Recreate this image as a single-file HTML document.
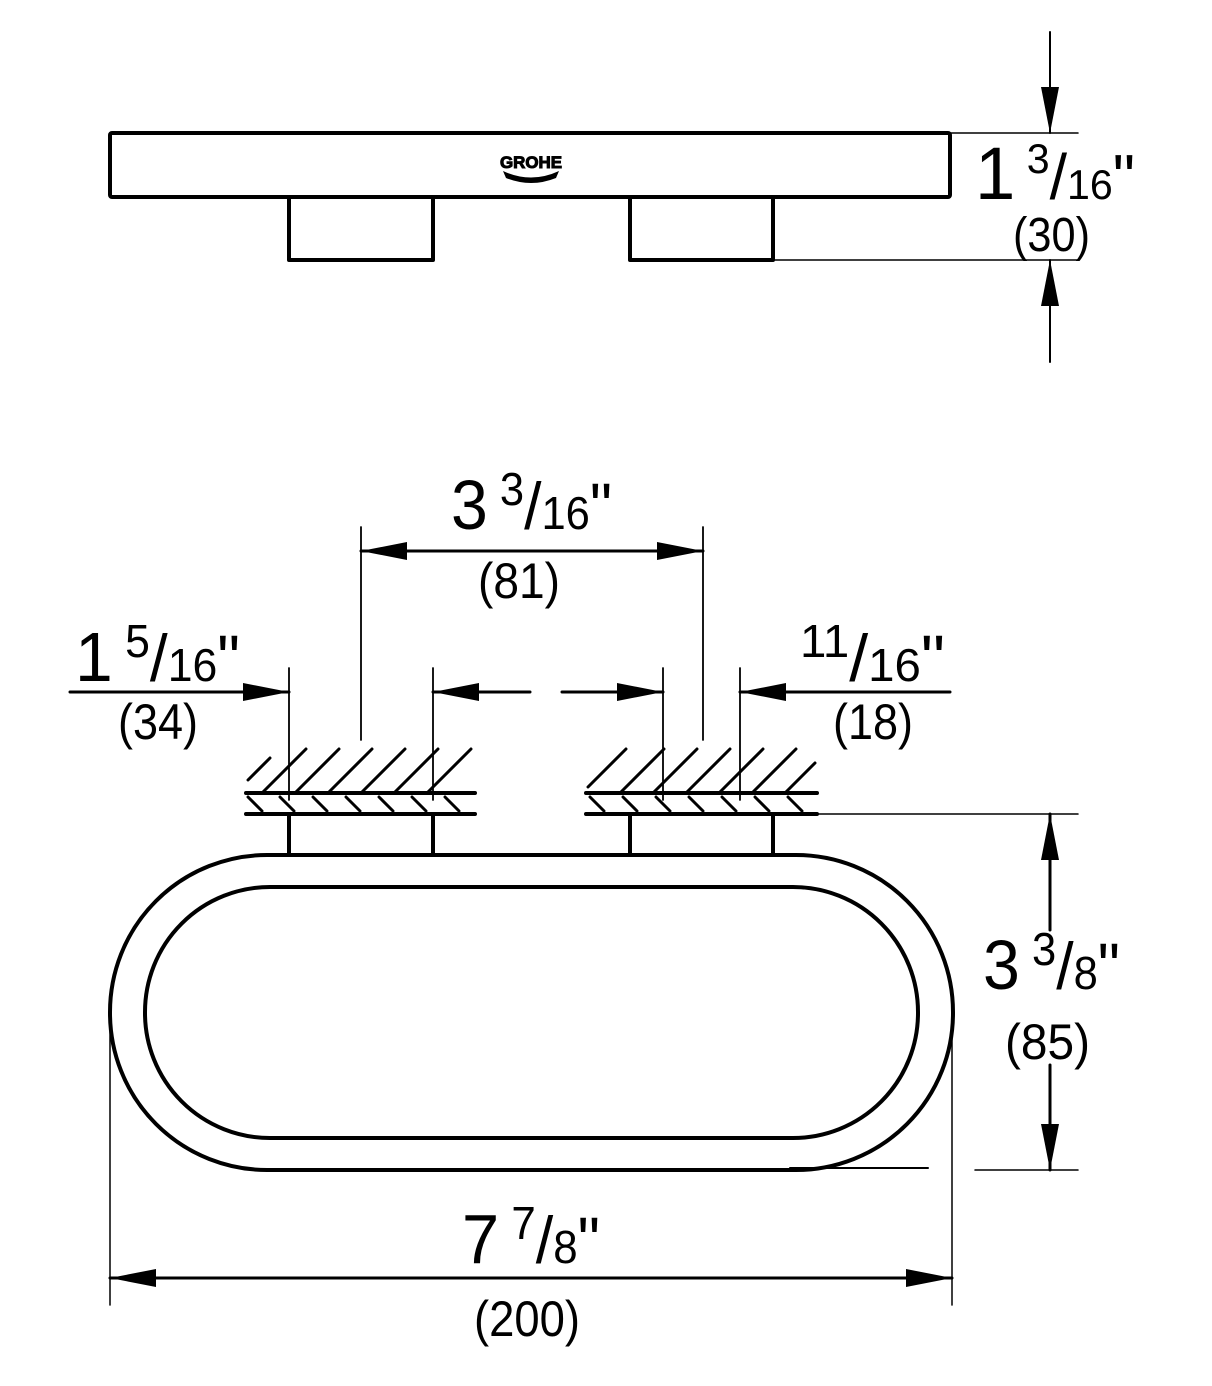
<!DOCTYPE html>
<html><head><meta charset="utf-8"><style>
html,body{margin:0;padding:0;background:#fff;}
svg{display:block;}
text{font-family:"Liberation Sans",sans-serif;fill:#000;}
</style></head><body>
<svg width="1212" height="1386" viewBox="0 0 1212 1386" xmlns="http://www.w3.org/2000/svg">
<defs>
<marker id="ah" viewBox="0 0 46 18" refX="46" refY="9" markerWidth="46" markerHeight="18" markerUnits="userSpaceOnUse" orient="auto">
<path d="M0,0 L46,9 L0,18 Z" fill="#000"/>
</marker>
</defs>
<g stroke="#000" fill="none" stroke-linecap="round" stroke-linejoin="round">
<rect x="110" y="133" width="840" height="64" stroke-width="4" rx="2"/>
<path d="M289,197 V260 H433 V197 M630,197 V260 H773 V197" stroke-width="4"/>
<path d="M950,133 H1078 M775,260 H1078" stroke-width="1.5"/>
<line x1="1050" y1="32" x2="1050" y2="133" stroke-width="2" marker-end="url(#ah)"/>
<line x1="1050" y1="362" x2="1050" y2="260" stroke-width="2" marker-end="url(#ah)"/>

<path d="M246,793 H475 M246,814 H475 M586,793 H817 M586,814 H817" stroke-width="4"/>
<g stroke-width="3">
<path d="M248,780 L270,758 M262,793 L306,749 M295,793 L339,749 M328,793 L372,749 M361,793 L405,749 M394,793 L438,749 M427,793 L471,749"/>
<path d="M248,797 L262,811 M280,797 L294,811 M313,797 L327,811 M346,797 L360,811 M379,797 L393,811 M412,797 L426,811 M445,797 L459,811"/>
<path d="M588,787 L626,749 M620,793 L664,749 M653,793 L697,749 M686,793 L730,749 M719,793 L763,749 M752,793 L796,749 M785,793 L815,763"/>
<path d="M590,797 L604,811 M623,797 L637,811 M656,797 L670,811 M689,797 L703,811 M722,797 L736,811 M755,797 L769,811 M788,797 L802,811"/>
</g>
<path d="M289,814 V855 M433,814 V855 M630,814 V855 M773,814 V855" stroke-width="4"/>

<rect x="110" y="855" width="843" height="315" rx="157" ry="157" stroke-width="4"/>
<rect x="145" y="887" width="773" height="251" rx="125" ry="125" stroke-width="4"/>
<path d="M790,1168 H928" stroke-width="2"/>

<path d="M361,527 V740 M703,527 V740 M289,668 V800 M433,668 V800 M663,668 V800 M740,668 V800" stroke-width="1.8"/>
<path d="M817,814 H1078 M975,1170 H1078 M110,1020 V1305 M952,1020 V1305" stroke-width="1.5"/>

<line x1="530" y1="551" x2="361" y2="551" stroke-width="3" marker-end="url(#ah)"/>
<line x1="530" y1="551" x2="703" y2="551" stroke-width="3" marker-end="url(#ah)"/>
<line x1="70" y1="692" x2="289" y2="692" stroke-width="3" marker-end="url(#ah)"/>
<line x1="530" y1="692" x2="433" y2="692" stroke-width="3" marker-end="url(#ah)"/>
<line x1="562" y1="692" x2="663" y2="692" stroke-width="3" marker-end="url(#ah)"/>
<line x1="950" y1="692" x2="740" y2="692" stroke-width="3" marker-end="url(#ah)"/>
<line x1="1050" y1="930" x2="1050" y2="814" stroke-width="3" marker-end="url(#ah)"/>
<line x1="1050" y1="1065" x2="1050" y2="1170" stroke-width="3" marker-end="url(#ah)"/>
<line x1="530" y1="1278" x2="110" y2="1278" stroke-width="3" marker-end="url(#ah)"/>
<line x1="530" y1="1278" x2="952" y2="1278" stroke-width="3" marker-end="url(#ah)"/>
</g>

<text x="531" y="168" font-size="17" font-weight="bold" text-anchor="middle" textLength="62" lengthAdjust="spacingAndGlyphs" stroke="#000" stroke-width="1">GROHE</text>
<path d="M503,171 Q531,184 559,171 L556,178 Q531,188 506,178 Z" fill="#000"/>

<text x="975" y="199" textLength="160" lengthAdjust="spacingAndGlyphs"><tspan font-size="74">1</tspan><tspan font-size="42" dy="-26"> 3</tspan><tspan font-size="64" dy="26">/</tspan><tspan font-size="42">16</tspan><tspan font-size="64">"</tspan></text>
<text x="1013" y="251" font-size="48" textLength="77" lengthAdjust="spacingAndGlyphs">(30)</text>

<text x="451" y="529" textLength="161" lengthAdjust="spacingAndGlyphs"><tspan font-size="70">3</tspan><tspan font-size="46" dy="-24"> 3</tspan><tspan font-size="66" dy="24">/</tspan><tspan font-size="46">16</tspan><tspan font-size="66">"</tspan></text>
<text x="478" y="598" font-size="50" textLength="82" lengthAdjust="spacingAndGlyphs">(81)</text>

<text x="75" y="681" textLength="165" lengthAdjust="spacingAndGlyphs"><tspan font-size="70">1</tspan><tspan font-size="46" dy="-24"> 5</tspan><tspan font-size="66" dy="24">/</tspan><tspan font-size="46">16</tspan><tspan font-size="66">"</tspan></text>
<text x="118" y="739" font-size="50" textLength="80" lengthAdjust="spacingAndGlyphs">(34)</text>

<text x="800" y="681" textLength="145" lengthAdjust="spacingAndGlyphs"><tspan font-size="46" dy="-24">11</tspan><tspan font-size="66" dy="24">/</tspan><tspan font-size="46">16</tspan><tspan font-size="66">"</tspan></text>
<text x="833" y="739" font-size="50" textLength="80" lengthAdjust="spacingAndGlyphs">(18)</text>

<text x="983" y="989" textLength="137" lengthAdjust="spacingAndGlyphs"><tspan font-size="70">3</tspan><tspan font-size="46" dy="-24"> 3</tspan><tspan font-size="66" dy="24">/</tspan><tspan font-size="46">8</tspan><tspan font-size="66">"</tspan></text>
<text x="1005" y="1059" font-size="50" textLength="85" lengthAdjust="spacingAndGlyphs">(85)</text>

<text x="462" y="1263" textLength="138" lengthAdjust="spacingAndGlyphs"><tspan font-size="70">7</tspan><tspan font-size="46" dy="-24"> 7</tspan><tspan font-size="66" dy="24">/</tspan><tspan font-size="46">8</tspan><tspan font-size="66">"</tspan></text>
<text x="474" y="1336" font-size="50" textLength="106" lengthAdjust="spacingAndGlyphs">(200)</text>
</svg>
</body></html>
